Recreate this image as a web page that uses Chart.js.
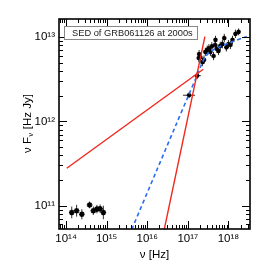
<!DOCTYPE html>
<html><head><meta charset="utf-8">
<script src="https://cdn.jsdelivr.net/npm/chart.js@4.4.1/dist/chart.umd.min.js"></script>
<style>html,body{margin:0;padding:0;background:#fff}</style>
</head><body>
<canvas id="sed" width="267" height="267"></canvas>
<script>
// SED of GRB061126 at 2000s - log-log nu F_nu plot
const xMin = 6.7e13, xMax = 3.4e18;
const yMin = 5.28e10, yMax = 1.65e13;
const xDecades = [14, 15, 16, 17, 18];
const yDecades = [11, 12, 13];

// optical points (errors in dex)
const optNu   = [1.38e14, 1.82e14, 2.45e14, 3.8e14, 4.7e14, 5.75e14, 6.9e14, 8.3e14];
const optFlux = [8.3e10, 8.7e10, 7.9e10, 1.02e11, 8.7e10, 9.1e10, 9.2e10, 8.3e10];
const optYErr = [0.07, 0.07, 0.06, 0.04, 0.05, 0.05, 0.05, 0.08];

// UV + X-ray points
const xrNu   = [1.07e17, 1.7e17, 1.86e17, 1.9e17, 2.04e17, 2.29e17, 2.5e17, 2.7e17, 3.0e17, 3.3e17,
                3.6e17, 3.9e17, 4.3e17, 4.7e17, 4.8e17, 5.2e17, 5.7e17, 6.3e17, 7.1e17, 7.9e17,
                8.9e17, 1.0e18, 1.12e18, 1.26e18, 1.49e18, 1.78e18];
const xrFlux = [2.05e12, 3.5e12, 5.68e12, 6.3e12, 5.8e12, 5.08e12, 5.4e12, 6.7e12, 7.1e12, 7.4e12,
                6.7e12, 7.8e12, 6.0e12, 8.1e12, 9.3e12, 7.3e12, 6.9e12, 7.9e12, 8.3e12, 9.8e12,
                7.6e12, 8.3e12, 8.1e12, 9.3e12, 1.1e13, 1.16e13];
const xrXErr = [0.15, 0.09, 0.04, 0.04, 0.04, 0.04, 0.04, 0.04, 0.04, 0.04,
                0.04, 0.04, 0.04, 0.04, 0.04, 0.04, 0.04, 0.04, 0.04, 0.04,
                0.04, 0.04, 0.04, 0.04, 0.04, 0.04];
const xrYErr = [0.035, 0.04, 0.05, 0.05, 0.05, 0.05, 0.05, 0.05, 0.05, 0.05,
                0.05, 0.05, 0.05, 0.05, 0.05, 0.05, 0.05, 0.05, 0.05, 0.05,
                0.05, 0.05, 0.05, 0.05, 0.05, 0.04];

// model lines
const shallowNu = [1.04e14, 2.4e17];
const shallowF  = [2.78e11, 4.17e12];
const steepNu   = [2.63e16, 2.63e17];
const steepF    = [5.25e10, 1.02e13];
const modelNu = [4.17e15, 1.58e16, 5.0e16, 1.0e17, 1.66e17, 2.09e17, 2.63e17, 3.55e17, 5.62e17, 1.0e18, 2.82e18];
const modelF  = [5.25e10, 2.4e11, 8.9e11, 1.95e12, 3.47e12, 4.57e12, 5.75e12, 6.76e12, 7.59e12, 8.51e12, 1.02e13];

const pts = (xs, ys) => xs.map((x, i) => ({x: x, y: ys[i]}));
const sup = {'0':'⁰','1':'¹','2':'²','3':'³','4':'⁴','5':'⁵','6':'⁶','7':'⁷','8':'⁸','9':'⁹'};
const powLabel = v => '10' + String(Math.round(Math.log10(v))).split('').map(c => sup[c]).join('');
const FONT = '"Liberation Sans", Arial, sans-serif';

// error bars
const errorBars = {
  id: 'errorBars',
  beforeDatasetsDraw(chart) {
    const ctx = chart.ctx, xs = chart.scales.x, ys = chart.scales.y;
    ctx.save();
    ctx.strokeStyle = '#333';
    ctx.lineWidth = 1;
    chart.data.datasets.forEach(ds => {
      if (!ds.yErr) return;
      ds.data.forEach((p, i) => {
        const px = xs.getPixelForValue(p.x), py = ys.getPixelForValue(p.y);
        const ye = ds.yErr[i], xe = ds.xErr ? ds.xErr[i] : 0;
        ctx.beginPath();
        ctx.moveTo(px, ys.getPixelForValue(p.y * Math.pow(10, -ye)));
        ctx.lineTo(px, ys.getPixelForValue(p.y * Math.pow(10, ye)));
        if (xe) {
          ctx.moveTo(xs.getPixelForValue(p.x * Math.pow(10, -xe)), py);
          ctx.lineTo(xs.getPixelForValue(p.x * Math.pow(10, xe)), py);
        }
        ctx.stroke();
      });
    });
    ctx.restore();
  }
};

// frame, inward ticks on all sides, legend box, axis titles
const frame = {
  id: 'frame',
  afterDraw(chart) {
    const ctx = chart.ctx, a = chart.chartArea, xs = chart.scales.x, ys = chart.scales.y;
    ctx.save();
    ctx.strokeStyle = '#000';
    ctx.lineWidth = 1;
    ctx.beginPath();
    for (let d = 13; d <= 18; d++) {
      for (let m = 1; m <= 9; m++) {
        const v = m * Math.pow(10, d);
        if (v < xMin || v > xMax) continue;
        const px = Math.round(xs.getPixelForValue(v)) + 0.5, len = m === 1 ? 8 : 4;
        ctx.moveTo(px, a.bottom); ctx.lineTo(px, a.bottom - len);
        ctx.moveTo(px, a.top); ctx.lineTo(px, a.top + len);
      }
    }
    for (let d = 10; d <= 13; d++) {
      for (let m = 1; m <= 9; m++) {
        const v = m * Math.pow(10, d);
        if (v < yMin || v > yMax) continue;
        const py = Math.round(ys.getPixelForValue(v)) + 0.5, len = m === 1 ? 8 : 4;
        ctx.moveTo(a.left, py); ctx.lineTo(a.left + len, py);
        ctx.moveTo(a.right, py); ctx.lineTo(a.right - len, py);
      }
    }
    ctx.stroke();
    ctx.lineWidth = 1.6;
    ctx.strokeRect(a.left, a.top, a.right - a.left, a.bottom - a.top);

    // legend box
    ctx.fillStyle = '#fff';
    ctx.fillRect(64.5, 26.5, 133, 13);
    ctx.strokeStyle = '#888';
    ctx.lineWidth = 1;
    ctx.strokeRect(64.5, 26.5, 133, 13);
    ctx.fillStyle = '#222';
    ctx.font = '9.3px ' + FONT;
    ctx.textBaseline = 'middle';
    ctx.fillText('SED of GRB061126 at 2000s', 72, 33.5);

    // x title
    ctx.fillStyle = '#000';
    ctx.font = '11.5px ' + FONT;
    ctx.textAlign = 'center';
    ctx.fillText('ν [Hz]', (a.left + a.right) / 2, 255);

    // y title with subscript nu
    ctx.save();
    ctx.translate(28, (a.top + a.bottom) / 2);
    ctx.rotate(-Math.PI / 2);
    ctx.textAlign = 'left';
    const p1 = 'ν F', p2 = 'ν', p3 = ' [Hz Jy]';
    ctx.font = '11.5px ' + FONT;
    const w1 = ctx.measureText(p1).width, w3 = ctx.measureText(p3).width;
    ctx.font = '7px ' + FONT;
    const w2 = ctx.measureText(p2).width;
    let x0 = -(w1 + w2 + w3) / 2;
    ctx.font = '11.5px ' + FONT;
    ctx.fillText(p1, x0, 0);
    ctx.font = '7px ' + FONT;
    ctx.fillText(p2, x0 + w1 + 0.5, 3);
    ctx.font = '11.5px ' + FONT;
    ctx.fillText(p3, x0 + w1 + w2 + 1, 0);
    ctx.restore();
    ctx.restore();
  }
};

new Chart(document.getElementById('sed'), {
  type: 'scatter',
  data: {
    datasets: [
      { label: 'shallow', data: pts(shallowNu, shallowF), showLine: true, pointRadius: 0,
        borderColor: '#f0281e', borderWidth: 1.4 },
      { label: 'steep', data: pts(steepNu, steepF), showLine: true, pointRadius: 0,
        borderColor: '#f0281e', borderWidth: 1.4 },
      { label: 'model', data: pts(modelNu, modelF), showLine: true, pointRadius: 0, tension: 0.3,
        borderColor: '#2a6ef0', borderWidth: 1.6, borderDash: [4, 3] },
      { label: 'optical', data: pts(optNu, optFlux), yErr: optYErr, pointStyle: 'star',
        pointRadius: 2.8, borderColor: '#000', backgroundColor: '#000', borderWidth: 1.6 },
      { label: 'xray', data: pts(xrNu, xrFlux), xErr: xrXErr, yErr: xrYErr, pointStyle: 'star',
        pointRadius: 2.3, borderColor: '#000', backgroundColor: '#000', borderWidth: 1.3 }
    ]
  },
  options: {
    responsive: false,
    devicePixelRatio: 1,
    animation: false,
    layout: { padding: { left: 0, right: 17, top: 19, bottom: 0 } },
    plugins: { legend: { display: false }, tooltip: { enabled: false } },
    scales: {
      x: {
        type: 'logarithmic', min: xMin, max: xMax,
        grid: { display: false, drawTicks: false },
        border: { display: false },
        afterBuildTicks: s => { s.ticks = xDecades.map(d => ({ value: Math.pow(10, d) })); },
        afterFit: s => { s.height = 38; },
        ticks: { callback: powLabel, color: '#000', padding: 3, maxRotation: 0, autoSkip: false,
                 font: { family: FONT, size: 11.5 } }
      },
      y: {
        type: 'logarithmic', min: yMin, max: yMax,
        grid: { display: false, drawTicks: false },
        border: { display: false },
        afterBuildTicks: s => { s.ticks = yDecades.map(d => ({ value: Math.pow(10, d) })); },
        afterFit: s => { s.width = 59; },
        ticks: { callback: powLabel, color: '#000', padding: 4, autoSkip: false,
                 font: { family: FONT, size: 11.5 } }
      }
    }
  },
  plugins: [errorBars, frame]
});
</script>
</body></html>
